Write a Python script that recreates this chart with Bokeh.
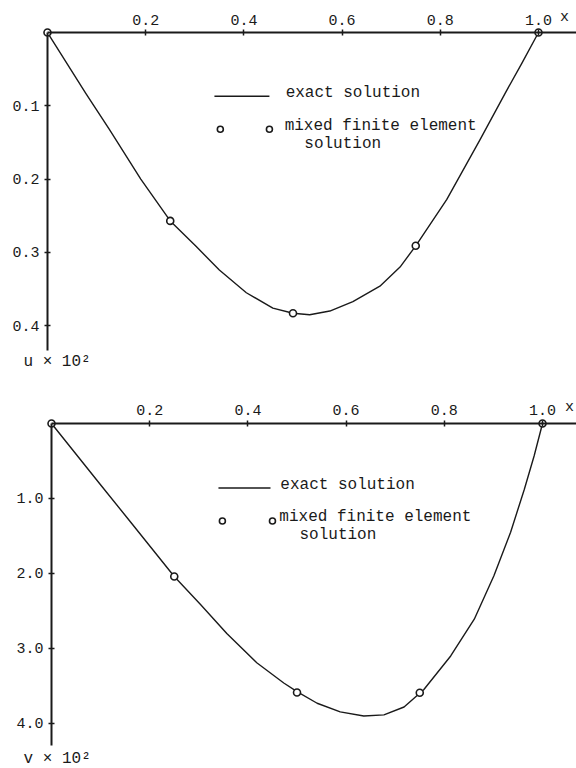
from bokeh.plotting import figure
from bokeh.layouts import column
from bokeh.models import Range1d, FixedTicker, Label
from bokeh.embed import file_html
from bokeh.resources import INLINE

# ---------------- data ----------------
x_u_exact = [0.0, 0.078, 0.126, 0.19, 0.25, 0.303, 0.35, 0.405, 0.459, 0.50,
             0.534, 0.575, 0.622, 0.677, 0.718, 0.75, 0.813, 0.881, 0.932, 0.966, 1.0]
u_exact = [0.0, 0.083, 0.132, 0.200, 0.257, 0.292, 0.324, 0.355, 0.376, 0.383,
           0.385, 0.380, 0.367, 0.346, 0.320, 0.291, 0.228, 0.146, 0.083, 0.042, 0.0]

x_v_exact = [0.0, 0.099, 0.163, 0.25, 0.303, 0.357, 0.418, 0.473, 0.50, 0.541,
             0.588, 0.636, 0.677, 0.718, 0.758, 0.813, 0.861, 0.901, 0.935, 0.963, 0.983, 1.0]
v_exact = [0.0, 0.81, 1.33, 2.04, 2.41, 2.80, 3.19, 3.46, 3.575, 3.73,
           3.845, 3.90, 3.885, 3.78, 3.55, 3.10, 2.61, 2.03, 1.45, 0.876, 0.43, 0.0]

x_fem = [0.0, 0.25, 0.50, 0.75, 1.0]
u_fem = [0.0, 0.257, 0.383, 0.291, 0.0]
v_fem = [0.0, 2.04, 3.587, 3.59, 0.0]

x_ticks = [0.2, 0.4, 0.6, 0.8, 1.0]
x_tick_labels = ["0.2", "0.4", "0.6", "0.8", "1.0"]
u_ticks = [0.1, 0.2, 0.3, 0.4]
u_tick_labels = ["0.1", "0.2", "0.3", "0.4"]
v_ticks = [1.0, 2.0, 3.0, 4.0]
v_tick_labels = ["1.0", "2.0", "3.0", "4.0"]

legend_line_label = "exact solution"
legend_marker_label = "mixed finite element"
legend_marker_label2 = "solution"
x_name = "x"
u_name = "u × 10²"
v_name = "v × 10²"

FONT = "Liberation Mono"
INK = "#1a1a1a"


def make_panel(xs, ys, y_fem, y_ticks, y_labels, y_name, height,
               xr, yr, x_end, y_end, leg):
    p = figure(width=576, height=height,
               x_range=Range1d(*xr), y_range=Range1d(*yr),
               x_axis_location="above", y_axis_location="left",
               min_border_left=0, min_border_right=0,
               min_border_top=0, min_border_bottom=0,
               output_backend="svg", toolbar_location=None,
               background_fill_color="white", border_fill_color="white")
    p.outline_line_color = None
    p.xgrid.visible = False
    p.ygrid.visible = False

    for ax, ticks, labels, bnds in ((p.xaxis[0], x_ticks, x_tick_labels, (0, x_end)),
                                    (p.yaxis[0], y_ticks, y_labels, (0, y_end))):
        ax.fixed_location = 0
        ax.bounds = bnds
        ax.ticker = FixedTicker(ticks=ticks)
        ax.major_label_overrides = {t: l for t, l in zip(ticks, labels)}
        ax.axis_line_width = 2
        ax.axis_line_color = INK
        ax.major_tick_line_color = INK
        ax.major_tick_line_width = 1.5
        ax.major_tick_in = 3
        ax.major_tick_out = 3
        ax.minor_tick_line_color = None
        ax.major_label_text_font = FONT
        ax.major_label_text_font_size = "15px"
        ax.major_label_text_color = INK
    p.xaxis.major_label_standoff = 5
    p.yaxis.major_label_standoff = 5

    # exact solution curve and FEM points
    p.line(xs, ys, line_color=INK, line_width=1.4, line_join="round")
    p.scatter(x_fem, y_fem, marker="circle", size=7, fill_color="white",
              line_color=INK, line_width=1.6)

    # axis names
    p.add_layout(Label(x=leg["xx"], y=0, y_offset=7, text=x_name,
                       text_font=FONT, text_font_size="15px", text_color=INK,
                       text_align="center", text_baseline="bottom"))
    p.add_layout(Label(x=leg["nx"], y=leg["ny"], text=y_name,
                       text_font=FONT, text_font_size="16px", text_color=INK,
                       text_align="left", text_baseline="middle"))

    # legend drawn in the plot
    p.line([leg["l0"], leg["l1"]], [leg["ly"], leg["ly"]], line_color=INK, line_width=1.4)
    p.add_layout(Label(x=leg["lt"], y=leg["lty"], text=legend_line_label,
                       text_font=FONT, text_font_size="16px", text_color=INK,
                       text_align="left", text_baseline="middle"))
    p.scatter([leg["m0"], leg["m1"]], [leg["my"], leg["my"]], marker="circle",
              size=6, fill_color="white", line_color=INK, line_width=1.6)
    p.add_layout(Label(x=leg["mt"], y=leg["mty"], text=legend_marker_label,
                       text_font=FONT, text_font_size="16px", text_color=INK,
                       text_align="left", text_baseline="middle"))
    p.add_layout(Label(x=leg["st"], y=leg["sy"], text=legend_marker_label2,
                       text_font=FONT, text_font_size="16px", text_color=INK,
                       text_align="left", text_baseline="middle"))
    return p


top_leg = dict(l0=0.340, l1=0.452, ly=0.087, lt=0.485, lty=0.083,
               m0=0.352, m1=0.452, my=0.132, mt=0.483, mty=0.128,
               st=0.523, sy=0.152, nx=-0.049, ny=0.450, xx=1.053)
p1 = make_panel(x_u_exact, u_exact, u_fem, u_ticks, u_tick_labels, u_name, height=398,
                xr=(-0.0957, 1.0774), yr=(0.4993, -0.0437),
                x_end=1.0774, y_end=0.434, leg=top_leg)

bot_leg = dict(l0=0.340, l1=0.446, ly=0.86, lt=0.466, lty=0.82,
               m0=0.348, m1=0.450, my=1.30, mt=0.464, mty=1.25,
               st=0.505, sy=1.49, nx=-0.057, ny=4.48, xx=1.055)
p2 = make_panel(x_v_exact, v_exact, v_fem, v_ticks, v_tick_labels, v_name, height=370,
                xr=(-0.1039, 1.0692), yr=(4.60, -0.333),
                x_end=1.0692, y_end=4.293, leg=bot_leg)

layout = column(p1, p2, spacing=0)
open("out.html", "w").write(file_html(layout, INLINE))
